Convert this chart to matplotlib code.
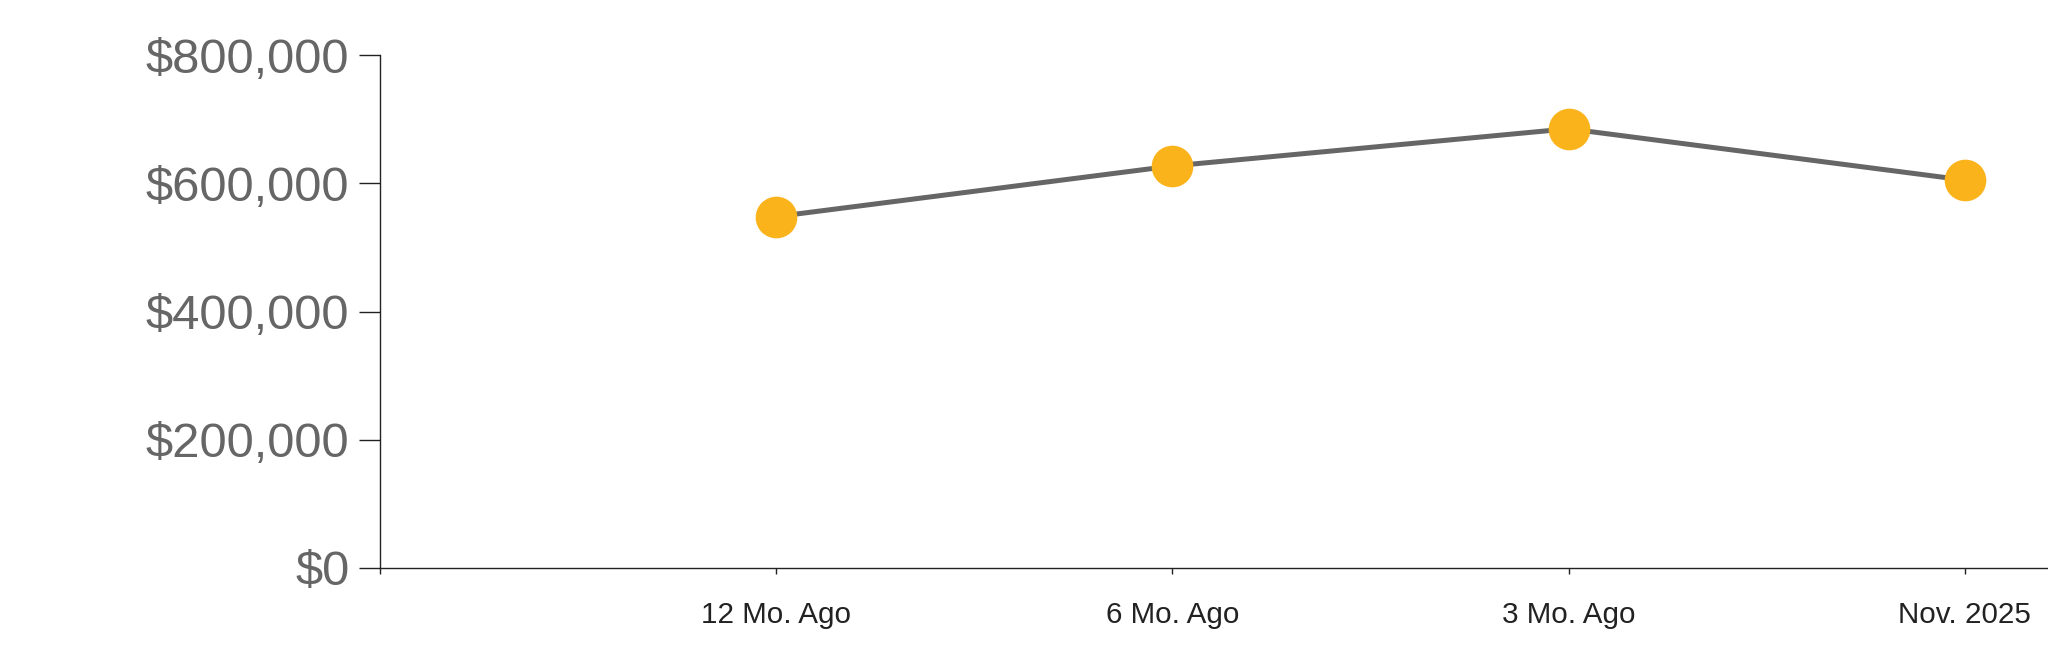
import matplotlib
matplotlib.use("Agg")
import matplotlib.pyplot as plt
from matplotlib.ticker import FuncFormatter

# data
labels = ["12 Mo. Ago", "6 Mo. Ago", "3 Mo. Ago", "Nov. 2025"]
values = [548000, 627000, 685000, 605000]
y_ticks = [0, 200000, 400000, 600000, 800000]

plt.rcParams["font.family"] = ["Liberation Sans", "DejaVu Sans"]

fig = plt.figure(figsize=(20.48, 6.63), dpi=100)
ax = fig.add_axes([0.1855, 0.1433, 0.8145, 0.7737])

x = list(range(1, len(labels) + 1))
ax.plot(x, values, color="#666666", lw=3.6, zorder=2)
ax.plot(x, values, ls="none", marker="o", ms=30, color="#fbb31b",
        markeredgewidth=0, zorder=3)

ax.set_xlim(0, 4.21)
ax.set_ylim(0, 800000)

ax.set_yticks(y_ticks)
ax.yaxis.set_major_formatter(FuncFormatter(lambda v, p: f"${v:,.0f}"))
ax.tick_params(axis="y", length=15, width=1, pad=7, labelsize=35.3,
               labelcolor="#666666", color="#222222")

ax.set_xticks([0] + x)
ax.set_xticklabels([""] + labels)
ax.tick_params(axis="x", length=4.5, width=1, pad=19, labelsize=21.3,
               labelcolor="#222222", color="#222222")

for s in ["top", "right"]:
    ax.spines[s].set_visible(False)
for s in ["left", "bottom"]:
    ax.spines[s].set_color("#222222")
    ax.spines[s].set_linewidth(1)

fig.savefig("out.png", dpi=100)
